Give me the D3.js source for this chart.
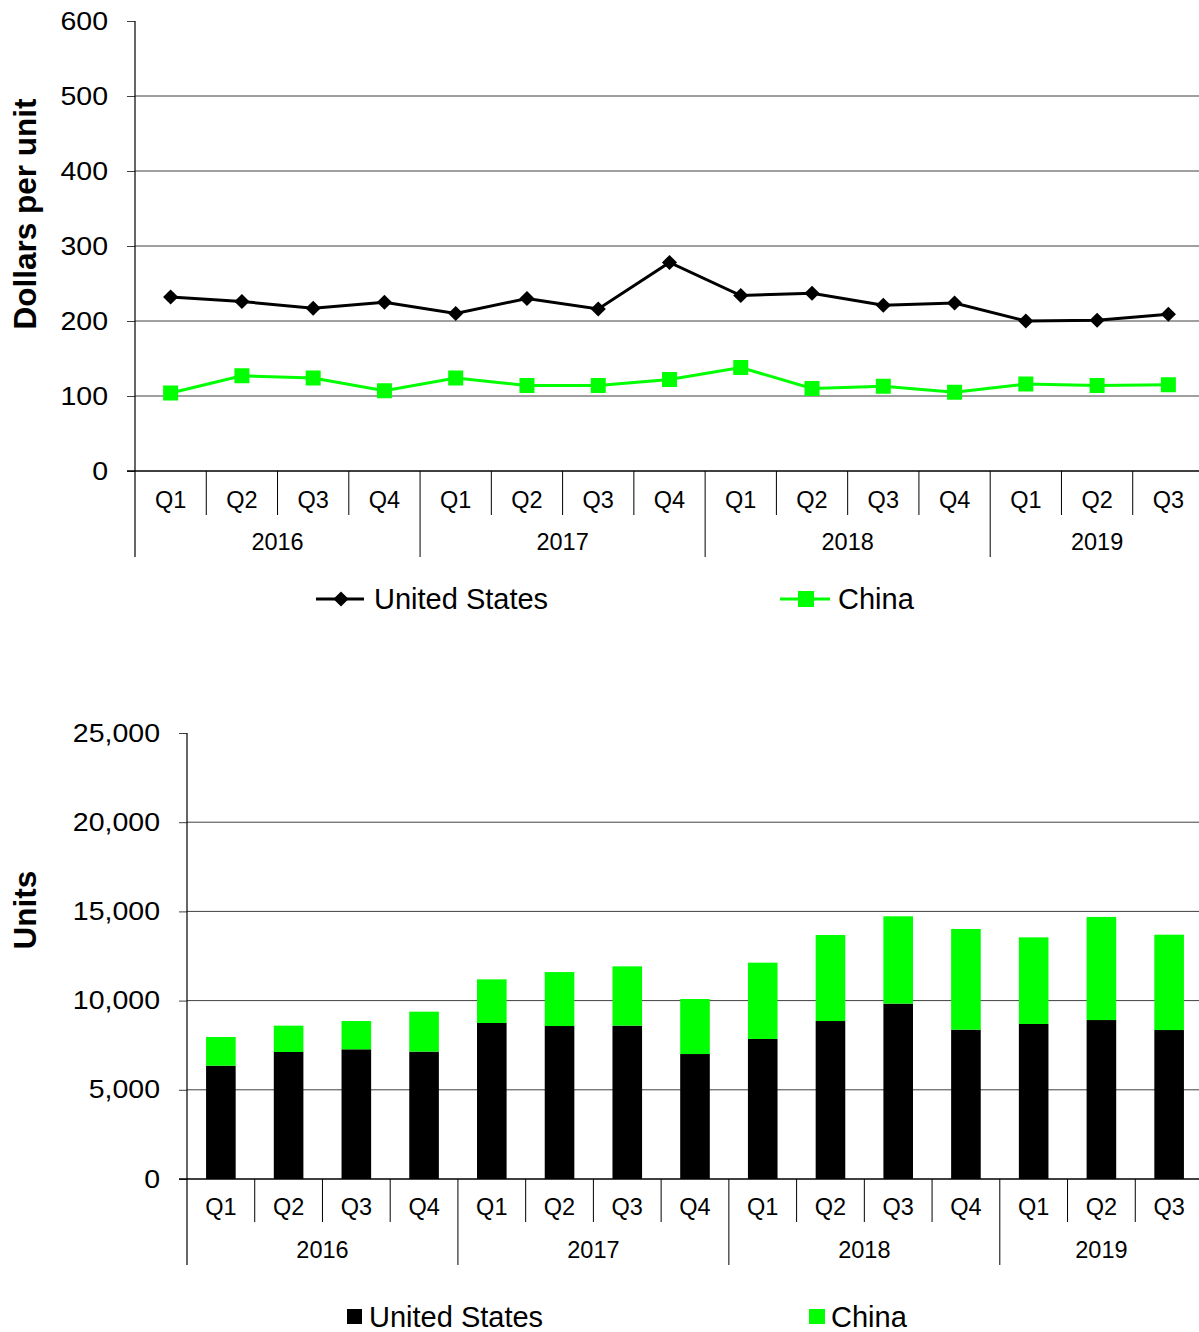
<!DOCTYPE html>
<html>
<head>
<meta charset="utf-8">
<script src="https://cdn.jsdelivr.net/npm/d3@7"></script>
<style>
  body { margin: 0; background: #fff; }
  svg { display: block; font-family: "Liberation Sans", Arial, sans-serif; }
</style>
</head>
<body>
<svg id="chart" width="1199" height="1332"></svg>
<script>
// categories
const years = ['2016', '2017', '2018', '2019'];
const quarters = ['Q1', 'Q2', 'Q3', 'Q4', 'Q1', 'Q2', 'Q3', 'Q4', 'Q1', 'Q2', 'Q3', 'Q4', 'Q1', 'Q2', 'Q3'];
const quarterYear = [0, 0, 0, 0, 1, 1, 1, 1, 2, 2, 2, 2, 3, 3, 3];

// unit values, dollars per unit
const usPrice = [232, 226, 217, 225, 210, 230, 216, 278, 234, 237, 221, 224, 200, 201, 209];
const chinaPrice = [104, 127, 124, 107, 124, 114, 114, 122, 138, 110, 113, 105, 116, 114, 115];

// quantities, units
const usUnits = [6350, 7120, 7270, 7140, 8745, 8575, 8595, 7005, 7850, 8855, 9830, 8370, 8690, 8910, 8350];
const chinaUnits = [1610, 1475, 1585, 2240, 2445, 3025, 3325, 3085, 4275, 4825, 4895, 5645, 4855, 5780, 5345];

const priceTicks = [0, 100, 200, 300, 400, 500, 600];
const unitTicks = [0, 5000, 10000, 15000, 20000, 25000];

const GREEN = '#00ff00';
const svg = d3.select('#chart');
const idx = d3.range(quarters.length);

// draws the y axis, gridlines and the two-level category axis
function drawFrame(g, x, y, ticks, fmt, opt) {
    const [left, right] = x.range();
    const y0 = y(0);

    // gridlines
    g.append('g').selectAll('line')
        .data(ticks.filter(t => t > 0 && t < ticks[ticks.length - 1]))
        .join('line')
        .attr('x1', left).attr('x2', right)
        .attr('y1', d => y(d)).attr('y2', d => y(d))
        .attr('stroke', '#404040').attr('stroke-width', 1);

    // y axis
    const ax = g.append('g')
        .attr('transform', `translate(${left},0)`)
        .call(d3.axisLeft(y).tickValues(ticks).tickFormat(fmt).tickSize(8));
    ax.select('.domain').remove();
    ax.selectAll('.tick line').attr('stroke', '#404040');
    // labels are a little wide in the original, stretch them
    ax.selectAll('.tick text')
        .attr('x', 0)
        .attr('transform', `translate(${-8 - opt.tickPad},0) scale(1.14,1)`)
        .attr('font-size', opt.tickFont).attr('fill', '#000')
        .attr('font-family', '"Liberation Sans", Arial, sans-serif');

    // vertical axis line down through the category labels
    g.append('line')
        .attr('x1', left).attr('x2', left)
        .attr('y1', y(ticks[ticks.length - 1])).attr('y2', y0 + opt.yearDepth)
        .attr('stroke', '#000').attr('stroke-width', 1.2);

    // zero line
    g.append('line')
        .attr('x1', left - 8).attr('x2', right)
        .attr('y1', y0).attr('y2', y0)
        .attr('stroke', '#000').attr('stroke-width', 1.5);

    // category separators
    g.append('g').selectAll('line')
        .data(idx.slice(1))
        .join('line')
        .attr('x1', d => x(d)).attr('x2', d => x(d))
        .attr('y1', y0)
        .attr('y2', d => y0 + (quarterYear[d] !== quarterYear[d - 1] ? opt.yearDepth : opt.quarterDepth))
        .attr('stroke', '#000').attr('stroke-width', 1);

    // quarter labels
    g.append('g').selectAll('text')
        .data(idx)
        .join('text')
        .attr('x', d => x(d) + x.bandwidth() / 2)
        .attr('y', y0 + opt.quarterDepth * 0.66)
        .attr('text-anchor', 'middle').attr('dominant-baseline', 'central')
        .attr('font-size', 23.5)
        .text(d => quarters[d]);

    // year labels
    g.append('g').selectAll('text')
        .data(years)
        .join('text')
        .attr('x', (d, i) => {
            const members = idx.filter(k => quarterYear[k] === i);
            return (x(members[0]) + x(members[members.length - 1]) + x.bandwidth()) / 2;
        })
        .attr('y', y0 + opt.yearDepth * 0.83)
        .attr('text-anchor', 'middle').attr('dominant-baseline', 'central')
        .attr('font-size', 23.5)
        .text(d => d);

    // y title
    g.append('text')
        .attr('transform', `translate(${opt.titleX},${opt.titleY}) rotate(-90)`)
        .attr('text-anchor', 'middle').attr('dominant-baseline', 'central')
        .attr('font-size', 31.5).attr('font-weight', 'bold')
        .text(opt.title);
}

// ---- top chart: dollars per unit ----
const priceG = svg.append('g');
const x1 = d3.scaleBand().domain(idx).range([135, 1204]).padding(0);
const y1 = d3.scaleLinear().domain([0, 600]).range([471, 21]);

drawFrame(priceG, x1, y1, priceTicks, d3.format('d'), {
    tickFont: 25, tickPad: 19, quarterDepth: 44, yearDepth: 86,
    title: 'Dollars per unit', titleX: 25, titleY: 214
});

const cx1 = d => x1(d) + x1.bandwidth() / 2;
const line = vals => d3.line().x(d => cx1(d)).y(d => y1(vals[d]))(idx);

priceG.append('path').attr('d', line(usPrice))
    .attr('fill', 'none').attr('stroke', '#000').attr('stroke-width', 3);
priceG.append('path').attr('d', line(chinaPrice))
    .attr('fill', 'none').attr('stroke', GREEN).attr('stroke-width', 3);

const diamond = d3.symbol().type(d3.symbolSquare).size(115);
priceG.append('g').selectAll('path')
    .data(idx).join('path')
    .attr('d', diamond)
    .attr('transform', d => `translate(${cx1(d)},${y1(usPrice[d])}) rotate(45)`)
    .attr('fill', '#000');
priceG.append('g').selectAll('rect')
    .data(idx).join('rect')
    .attr('x', d => cx1(d) - 7.5).attr('y', d => y1(chinaPrice[d]) - 7.5)
    .attr('width', 15).attr('height', 15)
    .attr('fill', GREEN);

// top legend
const leg1 = priceG.append('g');
leg1.append('line').attr('x1', 316).attr('x2', 364).attr('y1', 599).attr('y2', 599)
    .attr('stroke', '#000').attr('stroke-width', 3);
leg1.append('path').attr('d', diamond).attr('transform', 'translate(341,599) rotate(45)').attr('fill', '#000');
leg1.append('text').attr('x', 374).attr('y', 599).attr('dominant-baseline', 'central')
    .attr('font-size', 29).text('United States');
leg1.append('line').attr('x1', 780).attr('x2', 830).attr('y1', 599).attr('y2', 599)
    .attr('stroke', GREEN).attr('stroke-width', 3);
leg1.append('rect').attr('x', 798).attr('y', 591).attr('width', 16).attr('height', 16).attr('fill', GREEN);
leg1.append('text').attr('x', 838).attr('y', 599).attr('dominant-baseline', 'central')
    .attr('font-size', 29).text('China');

// ---- bottom chart: units ----
const unitsG = svg.append('g');
const x2 = d3.scaleBand().domain(idx).range([187, 1203]).padding(0);
const y2 = d3.scaleLinear().domain([0, 25000]).range([1179, 733]);

drawFrame(unitsG, x2, y2, unitTicks, d3.format(','), {
    tickFont: 25, tickPad: 19, quarterDepth: 43, yearDepth: 86,
    title: 'Units', titleX: 25, titleY: 910
});

const barW = x2.bandwidth() * 0.437;
const bx = d => x2(d) + (x2.bandwidth() - barW) / 2;

unitsG.append('g').selectAll('rect')
    .data(idx).join('rect')
    .attr('x', bx).attr('width', barW)
    .attr('y', d => y2(usUnits[d])).attr('height', d => y2(0) - y2(usUnits[d]))
    .attr('fill', '#000');
unitsG.append('g').selectAll('rect')
    .data(idx).join('rect')
    .attr('x', bx).attr('width', barW)
    .attr('y', d => y2(usUnits[d] + chinaUnits[d]))
    .attr('height', d => y2(usUnits[d]) - y2(usUnits[d] + chinaUnits[d]))
    .attr('fill', GREEN);

// bottom legend
const leg2 = unitsG.append('g');
leg2.append('rect').attr('x', 347).attr('y', 1309).attr('width', 15).attr('height', 15).attr('fill', '#000');
leg2.append('text').attr('x', 369).attr('y', 1317).attr('dominant-baseline', 'central')
    .attr('font-size', 29).text('United States');
leg2.append('rect').attr('x', 809).attr('y', 1309).attr('width', 16).attr('height', 15).attr('fill', GREEN);
leg2.append('text').attr('x', 831).attr('y', 1317).attr('dominant-baseline', 'central')
    .attr('font-size', 29).text('China');
</script>
</body>
</html>
